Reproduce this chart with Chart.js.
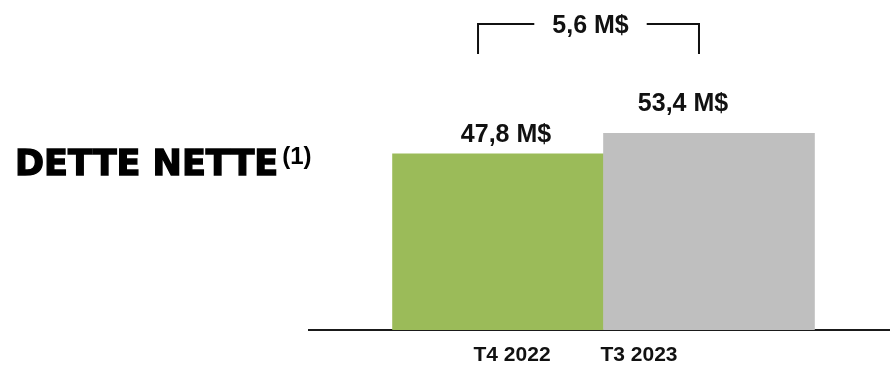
<!DOCTYPE html>
<html>
<head>
<meta charset="utf-8">
<script src="https://cdn.jsdelivr.net/npm/chart.js@4.4.0/dist/chart.umd.min.js"></script>
<style>
  html, body { margin: 0; padding: 0; background: #fff; }
  #wrap { position: relative; width: 890px; height: 367px; }
</style>
</head>
<body>
<div id="wrap"><canvas id="detteChart"></canvas></div>
<script>
// données
const periodes = ['T4 2022', 'T3 2023'];
const valeurs = [47.8, 53.4];
const etiquettes = ['47,8 M$', '53,4 M$'];
const ecart = '5,6 M$';
const titre = 'DETTE NETTE';
const renvoi = '(1)';
const couleurs = ['#9BBB59', '#BFBFBF'];

// décalages des textes (pixels)
const decalValeurX = [8, -26];
const decalValeurY = [12, 22];
const decalPeriodeX = [14, -70];

const police = "'Liberation Sans', Arial, sans-serif";

// textes dessinés par-dessus le graphique
const textesPlugin = {
  id: 'textes',
  afterDraw(chart) {
    const ctx = chart.ctx;
    const area = chart.chartArea;
    const meta = chart.getDatasetMeta(0);
    ctx.save();
    ctx.fillStyle = '#000';
    ctx.strokeStyle = '#000';
    ctx.textBaseline = 'alphabetic';

    // titre à gauche (épaissi pour imiter une police noire)
    ctx.textAlign = 'left';
    ctx.font = "bold 35px 'DejaVu Sans', sans-serif";
    ctx.lineWidth = 1.4;
    ctx.lineJoin = 'miter';
    ctx.fillText(titre, 15, 175);
    ctx.strokeText(titre, 15, 175);
    const wTitre = ctx.measureText(titre).width;
    ctx.font = 'bold 24px ' + police;
    ctx.fillText(renvoi, 15 + wTitre + 4, 164);

    // valeurs au-dessus des barres
    ctx.fillStyle = '#111';
    ctx.textAlign = 'center';
    ctx.font = 'bold 25px ' + police;
    meta.data.forEach((bar, i) => {
      ctx.fillText(etiquettes[i], bar.x + decalValeurX[i], bar.y - decalValeurY[i]);
    });

    // périodes sous l'axe
    ctx.font = 'bold 21px ' + police;
    const xs = chart.scales.x;
    periodes.forEach((p, i) => {
      ctx.fillText(p, xs.getPixelForValue(i) + decalPeriodeX[i], area.bottom + 31);
    });

    // accolade de l'écart
    const gauche = xs.getPixelForValue(0) - 20;
    const droite = xs.getPixelForValue(1) - 10;
    const haut = area.top + 24;
    const bas = area.top + 54;
    ctx.font = 'bold 25px ' + police;
    const milieu = (gauche + droite) / 2 + 2;
    const wEcart = ctx.measureText(ecart).width;
    ctx.fillText(ecart, milieu, area.top + 33);
    ctx.strokeStyle = '#111';
    ctx.lineWidth = 2;
    ctx.beginPath();
    ctx.moveTo(gauche, bas);
    ctx.lineTo(gauche, haut);
    ctx.lineTo(milieu - wEcart / 2 - 18, haut);
    ctx.moveTo(milieu + wEcart / 2 + 18, haut);
    ctx.lineTo(droite, haut);
    ctx.lineTo(droite, bas);
    ctx.stroke();
    ctx.restore();
  }
};

const ctx = document.getElementById('detteChart').getContext('2d');
const chart = new Chart(ctx, {
  type: 'bar',
  data: {
    datasets: [{
      data: valeurs.map((v, i) => ({ x: i, y: v })),
      backgroundColor: couleurs,
      borderWidth: 0,
      categoryPercentage: 1,
      barPercentage: 1
    }]
  },
  options: {
    responsive: true,
    maintainAspectRatio: false,
    animation: false,
    layout: { padding: { left: 309, right: 0, top: 0, bottom: 37 } },
    plugins: {
      legend: { display: false },
      tooltip: { enabled: false }
    },
    scales: {
      x: {
        type: 'linear',
        min: -0.896,
        max: 1.858,
        offset: false,
        afterBuildTicks: s => { s.ticks = periodes.map((p, i) => ({ value: i })); },
        grid: { display: false, drawTicks: false },
        border: { display: true, color: '#1a1a1a', width: 2 },
        ticks: { display: false }
      },
      y: {
        display: false,
        min: 0,
        max: 89.6
      }
    }
  },
  plugins: [textesPlugin]
});
</script>
</body>
</html>
